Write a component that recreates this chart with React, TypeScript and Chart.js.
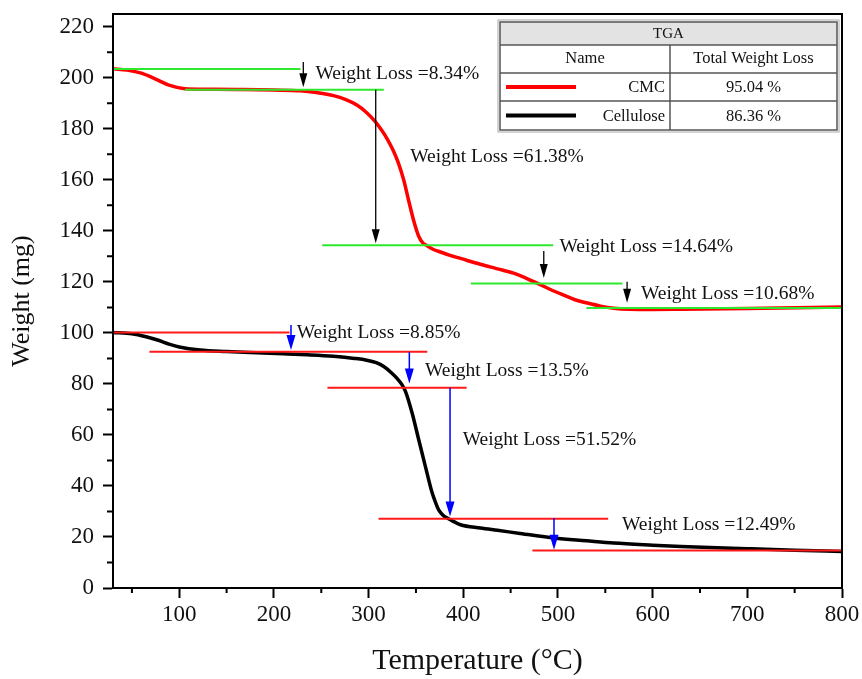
import React, { useEffect, useRef } from "react";
import { Chart, registerables } from "chart.js";
Chart.register(...registerables);

// ---------- DATA ----------
const cmcTemp = [30, 45, 60, 75, 90, 106, 130, 160, 200, 228, 245, 263, 276, 288, 298, 307, 314, 320, 326, 331, 337, 342, 348, 353, 357, 361, 368, 376, 386, 397, 418, 435, 453, 466, 478, 492, 506, 518, 531, 545, 559, 575, 600, 630, 700, 800];
const cmcWeight = [203.5, 203.0, 201.8, 199.5, 197.0, 195.7, 195.5, 195.4, 195.2, 194.9, 194.2, 193.0, 191.4, 189.2, 186.3, 182.8, 179.3, 175.8, 171.5, 167, 160, 152.3, 143.5, 137.8, 135.4, 134.3, 132.8, 131.7, 130.4, 129.2, 126.9, 125.2, 123.4, 121.5, 119.5, 117, 114.8, 113, 111.7, 110.5, 109.7, 109.3, 109.2, 109.3, 109.6, 110.1];

const celTemp = [30, 50, 65, 77, 90, 100, 122, 150, 182, 210, 235, 263, 285, 298, 308, 316, 324, 330, 335, 339, 346, 353, 360, 367, 371, 374, 378, 383, 390, 397, 418, 436, 460, 496, 530, 559, 600, 630, 700, 750, 800];
const celWeight = [100.2, 99.7, 98.5, 97.2, 95.5, 94.5, 93.3, 92.7, 92.2, 91.8, 91.4, 90.8, 90.0, 89.3, 88.3, 86.8, 84.4, 82.2, 79.8, 77, 68.5, 58, 47.6, 37.4, 33.2, 30.6, 28.7, 27.4, 26, 24.8, 23.5, 22.6, 21.4, 19.6, 18.5, 17.6, 16.8, 16.3, 15.4, 14.8, 14.3];

const xTickValues = [100, 200, 300, 400, 500, 600, 700, 800];
const yTickValues = [0, 20, 40, 60, 80, 100, 120, 140, 160, 180, 200, 220];
const xMinorTicks = [50, 150, 250, 350, 450, 550, 650, 750];
const yMinorTicks = [10, 30, 50, 70, 90, 110, 130, 150, 170, 190, 210];

// step lines: [startT, endT, weight]
const cmcSteps = [[30, 228, 203.4], [106, 316, 195.3], [251, 495, 134.4], [408, 568, 119.4], [530, 800, 109.8]];
const celSteps = [[30, 216.5, 100.2], [68.5, 362, 92.6], [256.5, 403.5, 78.5], [310.5, 553, 27.1], [473, 800, 14.7]];

// arrows: [T, fromW, toW]
const cmcArrows = [[231, 206.2, 196.3], [307.5, 195.3, 135.1], [485, 132.1, 121.5], [573, 120, 111.8]];
const celArrows = [[218, 103.1, 93.3], [343, 92.5, 80.2], [386, 78.5, 28.0], [495.8, 27.4, 15.0]];

// labels: [T, W, text]
const cmcLabels: [number, number, string][] = [
  [243.8, 201.7, "Weight Loss =8.34%"],
  [344, 168.8, "Weight Loss =61.38%"],
  [501.5, 133.6, "Weight Loss =14.64%"],
  [587.6, 115.2, "Weight Loss =10.68%"],
];
const celLabels: [number, number, string][] = [
  [224, 99.9, "Weight Loss =8.85%"],
  [359.5, 85, "Weight Loss =13.5%"],
  [399.3, 58.1, "Weight Loss =51.52%"],
  [567.5, 24.8, "Weight Loss =12.49%"],
];

const tableTitle = "TGA";
const tableHeaders = ["Name", "Total Weight Loss"];
const seriesNames = ["CMC", "Cellulose"];
const totalLosses = ["95.04 %", "86.36 %"];

// ---------- STYLE ----------
const FONT = "'Liberation Serif', 'Times New Roman', serif";
const RED = "#ff0000";
const BLACK = "#000000";
const GREEN = "#2ee82e";
const REFRED = "#ff1a1a";
const BLUE = "#0000ff";

const zip = (xs: number[], ys: number[]) => xs.map((x, i) => ({ x, y: ys[i] }));

const decorPlugin = {
  id: "decor",
  afterDraw(chart: any) {
    const { ctx, chartArea: ca, scales } = chart;
    const xs = scales.x, ys = scales.y;
    ctx.save();
    // frame
    ctx.strokeStyle = "#000";
    ctx.lineWidth = 2;
    ctx.strokeRect(ca.left, ca.top, ca.right - ca.left, ca.bottom - ca.top);
    // minor ticks
    ctx.lineWidth = 2;
    ctx.beginPath();
    xMinorTicks.forEach((v) => {
      const px = xs.getPixelForValue(v);
      ctx.moveTo(px, ca.bottom);
      ctx.lineTo(px, ca.bottom + 5);
    });
    yMinorTicks.forEach((v) => {
      const py = ys.getPixelForValue(v);
      ctx.moveTo(ca.left, py);
      ctx.lineTo(ca.left - 6, py);
    });
    ctx.stroke();

    // arrows
    const drawArrow = (a: number[], color: string, lw: number, headLen: number, headW: number) => {
      const px = xs.getPixelForValue(a[0]);
      const y1 = ys.getPixelForValue(a[1]);
      const y2 = ys.getPixelForValue(a[2]);
      ctx.strokeStyle = color;
      ctx.fillStyle = color;
      ctx.lineWidth = lw;
      ctx.beginPath();
      ctx.moveTo(px, y1);
      ctx.lineTo(px, y2 - headLen + 2);
      ctx.stroke();
      ctx.beginPath();
      ctx.moveTo(px - headW, y2 - headLen);
      ctx.lineTo(px + headW, y2 - headLen);
      ctx.lineTo(px, y2);
      ctx.closePath();
      ctx.fill();
    };
    cmcArrows.forEach((a) => drawArrow(a, BLACK, 1.3, 14, 4));
    celArrows.forEach((a) => drawArrow(a, BLUE, 1.5, 15, 4.5));

    // labels
    ctx.fillStyle = "#111";
    ctx.font = `19.5px ${FONT}`;
    ctx.textAlign = "left";
    ctx.textBaseline = "middle";
    [...cmcLabels, ...celLabels].forEach(([t, w, s]) => {
      ctx.fillText(s, xs.getPixelForValue(t), ys.getPixelForValue(w));
    });

    // table legend
    const right = ca.right - 5;
    const left = right - 337;
    const split = left + 170;
    const top = ca.top + 8;
    const rowH = [23, 28, 28, 29];
    const rowY: number[] = [top];
    rowH.forEach((h, i) => rowY.push(rowY[i] + h));
    const bottom = rowY[rowY.length - 1];
    ctx.fillStyle = "#ffffff";
    ctx.fillRect(left, top, right - left, bottom - top);
    ctx.fillStyle = "#e3e3e3";
    ctx.fillRect(left, top, right - left, rowH[0]);
    ctx.strokeStyle = "#555";
    ctx.lineWidth = 1.5;
    ctx.strokeRect(left, top, right - left, bottom - top);
    ctx.beginPath();
    for (let i = 1; i < rowY.length - 1; i++) {
      ctx.moveTo(left, rowY[i]);
      ctx.lineTo(right, rowY[i]);
    }
    ctx.moveTo(split, rowY[1]);
    ctx.lineTo(split, bottom);
    ctx.stroke();
    ctx.strokeStyle = "#aaa";
    ctx.lineWidth = 1;
    ctx.strokeRect(left - 2, top - 2, right - left + 4, bottom - top + 4);

    ctx.fillStyle = "#111";
    ctx.textBaseline = "middle";
    ctx.textAlign = "center";
    ctx.font = `15px ${FONT}`;
    ctx.fillText(tableTitle, (left + right) / 2, (rowY[0] + rowY[1]) / 2 + 1);
    ctx.font = `16.5px ${FONT}`;
    ctx.fillText(tableHeaders[0], (left + split) / 2, (rowY[1] + rowY[2]) / 2);
    ctx.fillText(tableHeaders[1], (split + right) / 2, (rowY[1] + rowY[2]) / 2);
    const colors = [RED, BLACK];
    seriesNames.forEach((n, i) => {
      const cy = (rowY[i + 2] + rowY[i + 3]) / 2;
      ctx.strokeStyle = colors[i];
      ctx.lineWidth = 4;
      ctx.beginPath();
      ctx.moveTo(left + 6, cy);
      ctx.lineTo(left + 76, cy);
      ctx.stroke();
      ctx.fillStyle = "#111";
      ctx.textAlign = "right";
      ctx.fillText(n, split - 5, cy + 1);
      ctx.textAlign = "center";
      ctx.fillText(totalLosses[i], (split + right) / 2, cy + 1);
    });
    ctx.restore();
  },
};

export default function App() {
  const ref = useRef<HTMLCanvasElement>(null);
  useEffect(() => {
    if (!ref.current) return;
    const refLine = (s: number[], color: string) => ({
      data: [{ x: s[0], y: s[2] }, { x: s[1], y: s[2] }],
      borderColor: color,
      borderWidth: 2,
      pointRadius: 0,
      fill: false,
    });
    const datasets: any[] = [
      ...cmcSteps.map((s) => refLine(s, GREEN)),
      ...celSteps.map((s) => refLine(s, REFRED)),
      {
        label: "CMC",
        data: zip(cmcTemp, cmcWeight),
        borderColor: RED,
        borderWidth: 3.5,
        pointRadius: 0,
        cubicInterpolationMode: "monotone",
        fill: false,
      },
      {
        label: "Cellulose",
        data: zip(celTemp, celWeight),
        borderColor: BLACK,
        borderWidth: 3.5,
        pointRadius: 0,
        cubicInterpolationMode: "monotone",
        fill: false,
      },
    ];
    const chart = new Chart(ref.current, {
      type: "line",
      data: { datasets },
      options: {
        animation: false,
        responsive: false,
        devicePixelRatio: 1,
        layout: { padding: { top: 14, right: 20, left: 0, bottom: 0 } },
        plugins: { legend: { display: false }, tooltip: { enabled: false } },
        scales: {
          x: {
            type: "linear",
            min: 30,
            max: 800,
            afterBuildTicks: (s: any) => {
              s.ticks = xTickValues.map((v) => ({ value: v }));
            },
            afterFit: (s: any) => {
              s.height = 91;
              s.paddingLeft = 0;
              s.paddingRight = 0;
            },
            ticks: {
              font: { family: FONT, size: 23 },
              color: "#111",
              padding: 3,
              maxRotation: 0,
              autoSkip: false,
            },
            grid: { drawOnChartArea: false, tickLength: 10, tickWidth: 2, tickColor: "#000" },
            border: { color: "#000", width: 2 },
            title: {
              display: true,
              text: "Temperature (°C)",
              font: { family: FONT, size: 30 },
              color: "#111",
              padding: { top: 0, bottom: 0 },
            },
          },
          y: {
            type: "linear",
            min: 0,
            max: 225,
            afterBuildTicks: (s: any) => {
              s.ticks = yTickValues.map((v) => ({ value: v }));
            },
            afterFit: (s: any) => {
              s.width = 113;
              s.paddingTop = 0;
              s.paddingBottom = 0;
            },
            ticks: {
              font: { family: FONT, size: 23 },
              color: "#111",
              padding: 9,
              autoSkip: false,
            },
            grid: { drawOnChartArea: false, tickLength: 10, tickWidth: 2, tickColor: "#000" },
            border: { color: "#000", width: 2 },
            title: {
              display: true,
              text: "Weight (mg)",
              font: { family: FONT, size: 26 },
              color: "#111",
              padding: { top: 7, bottom: 0 },
            },
          },
        },
      },
      plugins: [decorPlugin],
    } as any);
    return () => chart.destroy();
  }, []);
  return (
    <div style={{ position: "fixed", left: 0, top: 0, width: 862, height: 679, background: "#fff" }}>
      <canvas ref={ref} width={862} height={679} style={{ width: 862, height: 679 }} />
    </div>
  );
}
